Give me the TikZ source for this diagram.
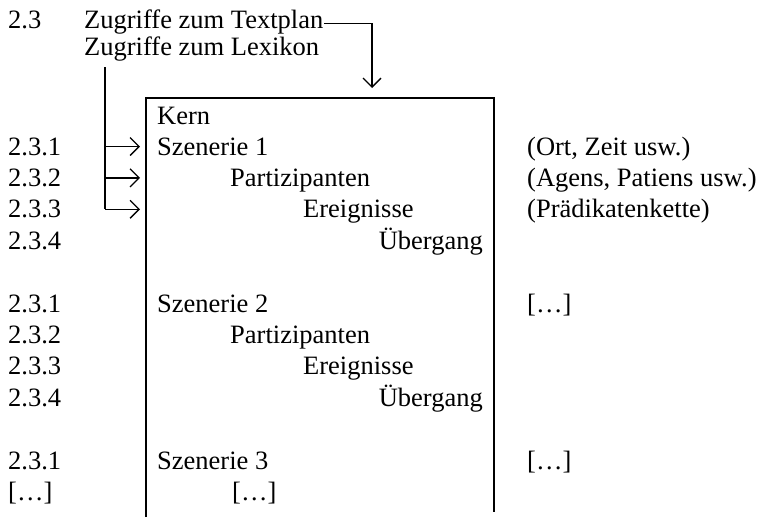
\documentclass[tikz,border=0pt]{standalone}
\usepackage{fontspec}
\setmainfont{Liberation Serif}
\usetikzlibrary{arrows.meta}

\begin{document}
\begin{tikzpicture}[x=1pt, y=-1pt,
	txt/.style={anchor=base west, inner sep=0pt, font=\fontsize{26.5}{32}\selectfont},
	rtxt/.style={txt, anchor=base east},
	rahmen/.style={line width=1.8pt},
	spitze/.style={-{Straight Barb[length=9pt,width=18pt,line width=1.3pt]}},
	zugriff/.style={line width=1.3pt, spitze}]
	\useasboundingbox (0,0) rectangle (763,517);

	\node[txt] (n23)      at (8,28)  {2.3};
	\node[txt] (textplan) at (84,28) {Zugriffe zum Textplan};
	\node[txt] (lexikon)  at (84,55) {Zugriffe zum Lexikon};

	% Rahmen des Kerns
	\draw[rahmen] (146,517) -- (146,98) -- (494,98) -- (494,512);
	\node[txt] (kern) at (157,124) {Kern};

	\node[txt]  (a231)  at (8,155)     {2.3.1};
	\node[txt]  (a232)  at (8,186.4)   {2.3.2};
	\node[txt]  (a233)  at (8,217.8)   {2.3.3};
	\node[txt]  (a234)  at (8,249.2)   {2.3.4};
	\node[txt]  (sz1)   at (157,155)   {Szenerie 1};
	\node[txt]  (pa1)   at (230,186.4) {Partizipanten};
	\node[txt]  (er1)   at (303,217.8) {Ereignisse};
	\node[rtxt] (ue1)   at (483,249.2) {Übergang};
	\node[txt]  (ort)   at (527,155)   {(Ort, Zeit usw.)};
	\node[txt]  (agens) at (527,186.4) {(Agens, Patiens usw.)};
	\node[txt]  (praed) at (527,217.8) {(Prädikatenkette)};

	\node[txt]  (b231)  at (8,312)     {2.3.1};
	\node[txt]  (b232)  at (8,343.4)   {2.3.2};
	\node[txt]  (b233)  at (8,374.8)   {2.3.3};
	\node[txt]  (b234)  at (8,406.2)   {2.3.4};
	\node[txt]  (sz2)   at (157,312)   {Szenerie 2};
	\node[txt]  (pa2)   at (230,343.4) {Partizipanten};
	\node[txt]  (er2)   at (303,374.8) {Ereignisse};
	\node[rtxt] (ue2)   at (483,406.2) {Übergang};
	\node[txt]  (rest2) at (527,312)   {[\dots]};

	\node[txt]  (c231)  at (8,469)     {2.3.1};
	\node[txt]  (crest) at (8,500.4)   {[\dots]};
	\node[txt]  (sz3)   at (157,469)   {Szenerie 3};
	\node[txt]  (pa3)   at (232,500.4) {[\dots]};
	\node[txt]  (rest3) at (527,469)   {[\dots]};

	% Zugriffe
	\coordinate (tp)     at ([xshift=1pt,yshift=5pt]textplan.base east);
	\coordinate (kernin) at (372,88);
	\draw[line width=1pt] (tp) -- (tp -| kernin);
	\draw[line width=1.4pt, spitze] (tp -| kernin) -- (kernin);

	\coordinate (lx)  at (105,67);
	\coordinate (lx1) at (140,146.5);
	\coordinate (lx2) at (140,177.9);
	\coordinate (lx3) at (140,209.3);
	\draw[line width=1.4pt] (lx) -- (lx |- lx3);
	\draw[zugriff] (lx |- lx1) -- (lx1);
	\draw[zugriff] (lx |- lx2) -- (lx2);
	\draw[zugriff] (lx |- lx3) -- (lx3);
\end{tikzpicture}
\end{document}
